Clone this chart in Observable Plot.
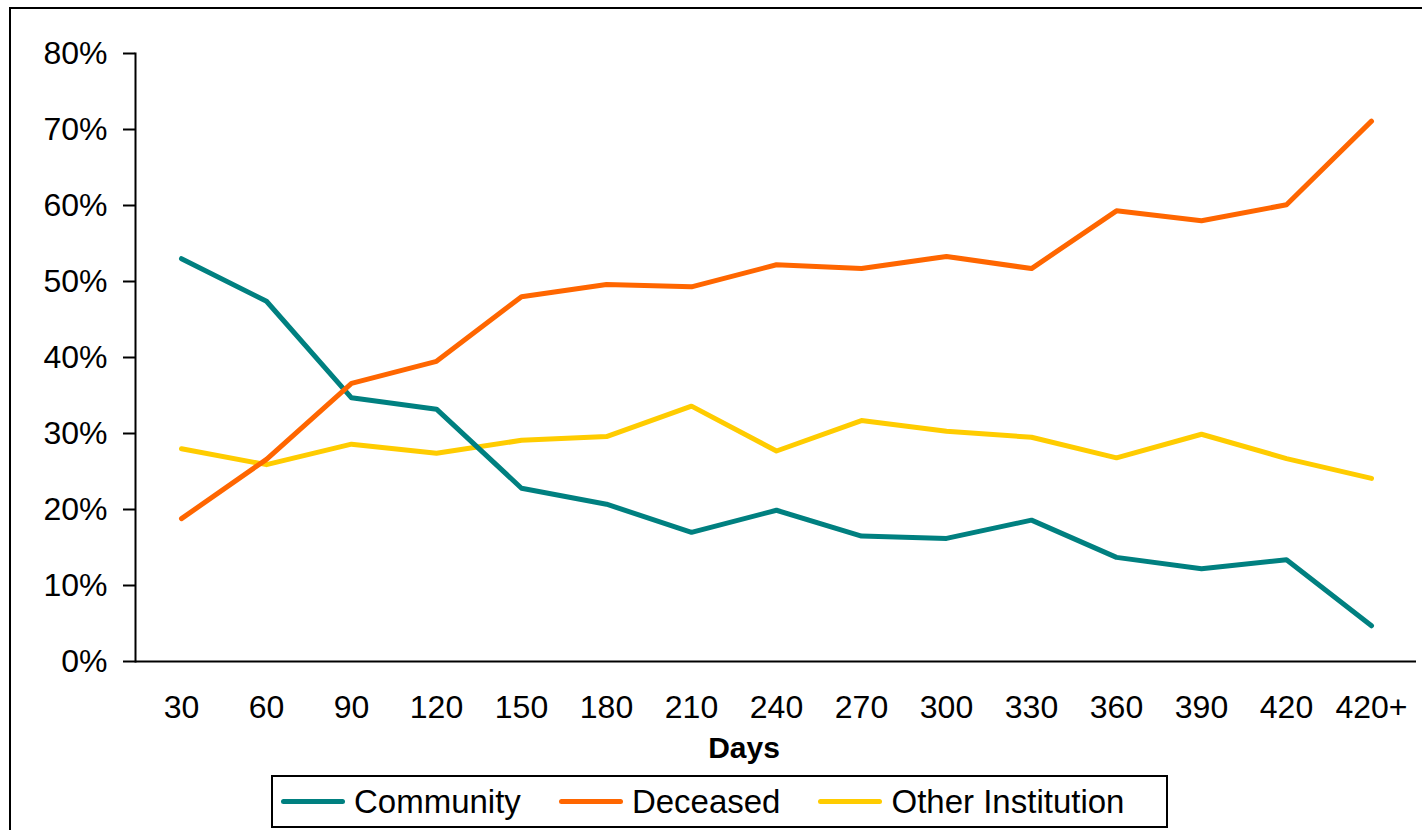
<!DOCTYPE html>
<html>
<head>
<meta charset="utf-8">
<script src="https://cdn.jsdelivr.net/npm/d3@7"></script>
<script src="https://cdn.jsdelivr.net/npm/@observablehq/plot@0.6"></script>
<style>
  html, body { margin: 0; padding: 0; background: #fff; overflow: hidden; }
  #wrap { position: relative; width: 1422px; height: 830px; font-family: "Liberation Sans", Arial, sans-serif; color: #000; }
  #border { position: absolute; left: 9px; top: 7px; width: 1500px; height: 900px; border-left: 2px solid #000; border-top: 2px solid #000; pointer-events: none; }
  #chart { position: absolute; left: 0; top: 0; }
  #legend { position: absolute; left: 271px; top: 775px; width: 893px; height: 49px; border: 2px solid #000; box-sizing: content-box; display: flex; align-items: center; font-size: 33px; background: #fff; white-space: nowrap; }
  .item { display: flex; align-items: center; flex: none; margin-left: 8px; margin-right: 30px; }
  .sw { width: 64px; height: 5px; border-radius: 3px; margin-right: 9px; flex: none; }
</style>
</head>
<body>
<div id="wrap">
  <div id="chart"></div>
  <div id="legend"></div>
  <div id="border"></div>
</div>
<script>
const categories = ["30","60","90","120","150","180","210","240","270","300","330","360","390","420","420+"];
const community = [53.0,47.4,34.7,33.2,22.8,20.7,17.0,19.9,16.5,16.2,18.6,13.7,12.2,13.4,4.7];
const deceased  = [18.8,26.6,36.6,39.5,48.0,49.6,49.3,52.2,51.7,53.3,51.7,59.3,58.0,60.1,71.1];
const other     = [28.0,25.9,28.6,27.4,29.1,29.6,33.6,27.7,31.7,30.3,29.5,26.8,29.9,26.7,24.1];
const seriesNames = ["Community","Deceased","Other Institution"];
const seriesColors = ["#008080","#FF6600","#FFCC00"];
const yTicks = [0,0.1,0.2,0.3,0.4,0.5,0.6,0.7,0.8];
const xLabel = "Days";

const rows = [];
[community, deceased, other].forEach((vals, s) => {
  vals.forEach((v, i) => rows.push({series: seriesNames[s], day: categories[i], value: v / 100}));
});
const drawOrder = ["Other Institution","Community","Deceased"];

const chart = Plot.plot({
  width: 1422,
  height: 775,
  marginLeft: 135,
  marginRight: 6,
  marginTop: 53,
  marginBottom: 114,
  style: {fontSize: "32px", fontFamily: "'Liberation Sans', Arial, sans-serif", background: "transparent", overflow: "visible", color: "#000"},
  x: {type: "point", domain: categories, padding: 0.5},
  y: {domain: [0, 0.8]},
  color: {domain: seriesNames, range: seriesColors},
  marks: [
    Plot.axisY({ticks: yTicks, tickFormat: d => Math.round(d * 100) + "%", tickSize: 12, tickPadding: 16, strokeWidth: 2, label: null}),
    Plot.axisX({tickSize: 0, tickPadding: 34, label: null}),
    Plot.frame({anchor: "left", strokeWidth: 2}),
    Plot.ruleY([0], {strokeWidth: 2}),
    ...drawOrder.map(name => Plot.line(rows.filter(r => r.series === name), {
      x: "day", y: "value", stroke: "series", strokeWidth: 5,
      strokeLinecap: "round", strokeLinejoin: "round"
    })),
    Plot.text([xLabel], {frameAnchor: "bottom", dy: 96, dx: -32, fontWeight: "bold", fontSize: 30})
  ]
});
document.getElementById("chart").appendChild(chart);

const legend = document.getElementById("legend");
seriesNames.forEach((name, i) => {
  const item = document.createElement("div");
  item.className = "item";
  const sw = document.createElement("div");
  sw.className = "sw";
  sw.style.background = seriesColors[i];
  const t = document.createElement("span");
  t.textContent = name;
  item.appendChild(sw);
  item.appendChild(t);
  legend.appendChild(item);
});
</script>
</body>
</html>
